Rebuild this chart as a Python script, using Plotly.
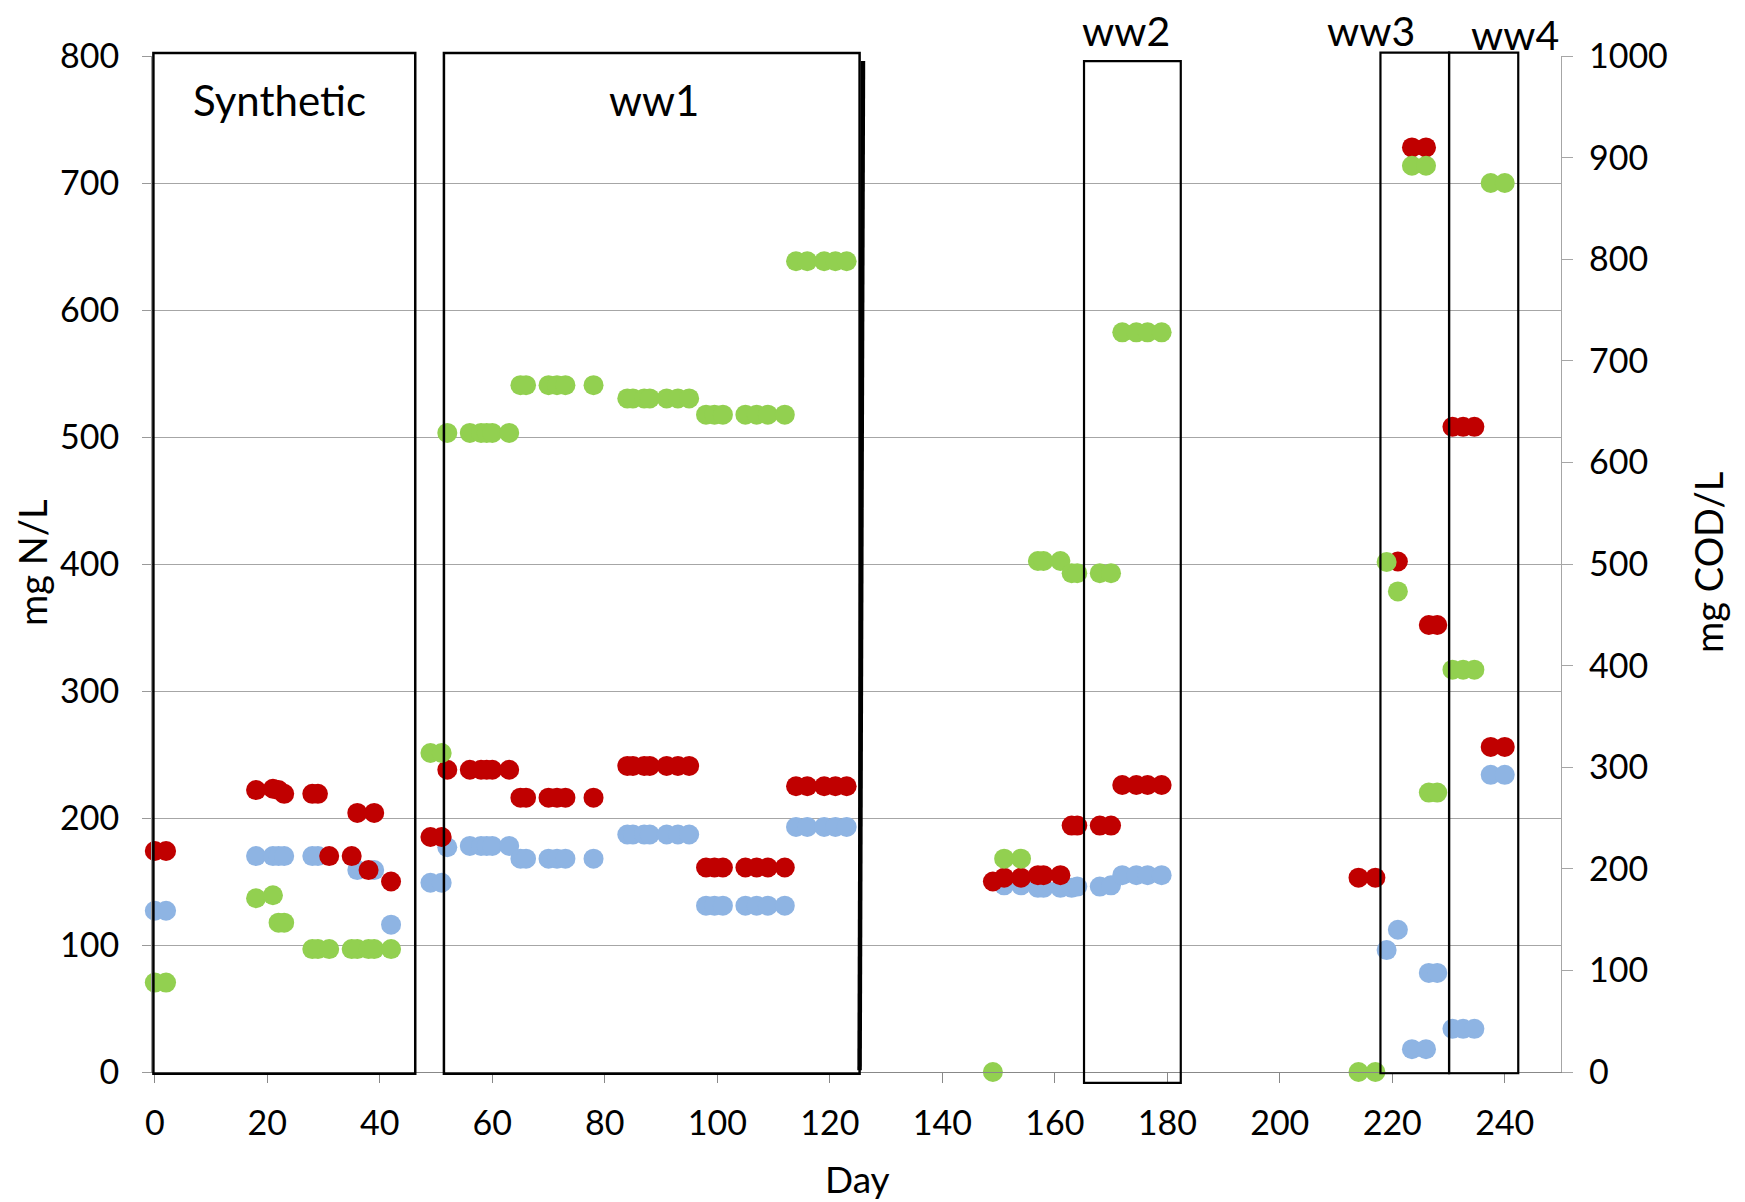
import plotly.graph_objects as go

# ---------------- data ----------------
# red series (mg N/L, left axis)
red_day = [0, 2, 18, 21, 22, 23, 28, 29, 31, 35, 36, 38, 39, 42,
           49, 51, 52, 56, 58, 59, 60, 63, 65, 66, 70, 71.5, 73, 78,
           84, 85, 87, 88, 91, 93, 95, 98, 99.5, 101, 105, 107, 109, 112,
           114, 116, 119, 121, 123,
           149, 151, 154, 157, 158, 161, 163, 164, 168, 170, 172, 174.5, 176.5, 179,
           214, 217, 221, 223.5, 226, 226.5, 228, 230.7, 232.6, 234.6, 237.5, 240]
red_val = [174, 174, 222, 223, 222, 219, 219, 219, 170, 170, 204, 159, 204, 150,
           185, 185, 238, 238, 238, 238, 238, 238, 216, 216, 216, 216, 216, 216,
           241, 241, 241, 241, 241, 241, 241, 161, 161, 161, 161, 161, 161, 161,
           225, 225, 225, 225, 225,
           150, 153, 153, 155, 155, 155, 194, 194, 194, 194, 226, 226, 226, 226,
           153, 153, 402, 728, 728, 352, 352, 508, 508, 508, 256, 256]

# blue series (mg N/L, left axis)
blue_day = [0, 2, 18, 21, 22, 23, 28, 29, 36, 39, 42,
            49, 51, 52, 56, 58, 59, 60, 63, 65, 66, 70, 71.5, 73, 78,
            84, 85, 87, 88, 91, 93, 95, 98, 99.5, 101, 105, 107, 109, 112,
            114, 116, 119, 121, 123,
            151, 154, 157, 158, 161, 163, 164, 168, 170, 172, 174.5, 176.5, 179,
            219, 221, 223.5, 226, 226.5, 228, 230.7, 232.6, 234.6, 237.5, 240]
blue_val = [127, 127, 170, 170, 170, 170, 170, 170, 159, 159, 116,
            149, 149, 177, 178, 178, 178, 178, 178, 168, 168, 168, 168, 168, 168,
            187, 187, 187, 187, 187, 187, 187, 131, 131, 131, 131, 131, 131, 131,
            193, 193, 193, 193, 193,
            147, 147, 145, 145, 145, 145, 146, 146, 147, 155, 155, 155, 155,
            96, 112, 18, 18, 78, 78, 34, 34, 34, 234, 234]

# green series (mg COD/L, right axis)
green_day = [0, 2, 18, 21, 22, 23, 28, 29, 31, 35, 36, 38, 39, 42,
             49, 51, 52, 56, 58, 59, 60, 63, 65, 66, 70, 71.5, 73, 78,
             84, 85, 87, 88, 91, 93, 95, 98, 99.5, 101, 105, 107, 109, 112,
             114, 116, 119, 121, 123,
             149, 151, 154, 157, 158, 161, 163, 164, 168, 170, 172, 174.5, 176.5, 179,
             214, 217, 219, 221, 223.5, 226, 226.5, 228, 230.7, 232.6, 234.6, 237.5, 240]
green_val = [88, 88, 171, 174, 147, 147, 121, 121, 121, 121, 121, 121, 121, 121,
             314, 314, 629, 629, 629, 629, 629, 629, 676, 676, 676, 676, 676, 676,
             663, 663, 663, 663, 663, 663, 663, 647, 647, 647, 647, 647, 647, 647,
             798, 798, 798, 798, 798,
             0, 210, 210, 503, 503, 503, 491, 491, 491, 491, 728, 728, 728, 728,
             0, 0, 502, 473, 892, 892, 275, 275, 396, 396, 396, 875, 875]

x_ticks = [0, 20, 40, 60, 80, 100, 120, 140, 160, 180, 200, 220, 240]

# phase boxes (x in days, y in mg N/L)
box_names = ["Synthetic", "ww1", "ww2", "ww3", "ww4"]
box_x0 = [-0.25, 51.4, 165.2, 217.9, 230.1]
box_x1 = [46.3, 125.3, 182.4, 230.1, 242.4]
box_y0 = [-1.3, -1.3, -8.5, -1.0, -1.0]
box_y1 = [802.4, 802.4, 796.0, 802.7, 802.7]
box_w = [2.5, 2.5, 2.2, 2.2, 2.2]
label_x = [22.1, 88.8, 172.6, 216.3, 241.8]
label_y = [765, 765, 820, 820, 817]
label_size = [42, 42, 41, 41, 41]

Y_MAX = 800
RED = "#C00000"
BLUE = "#8EB4E3"
GREEN = "#92D050"
FONT = "Lato"
MSIZE = 20

fig = go.Figure()
fig.add_trace(go.Scatter(x=blue_day, y=blue_val, mode="markers", cliponaxis=False,
                         marker=dict(color=BLUE, size=MSIZE), yaxis="y", showlegend=False))
fig.add_trace(go.Scatter(x=red_day, y=red_val, mode="markers", cliponaxis=False,
                         marker=dict(color=RED, size=MSIZE), yaxis="y", showlegend=False))
fig.add_trace(go.Scatter(x=green_day, y=green_val, mode="markers", cliponaxis=False,
                         marker=dict(color=GREEN, size=MSIZE), yaxis="y2", showlegend=False))

for i in range(len(box_names)):
    fig.add_shape(type="rect", xref="x", yref="y domain",
                  x0=box_x0[i], x1=box_x1[i],
                  y0=box_y0[i] / Y_MAX, y1=box_y1[i] / Y_MAX,
                  line=dict(color="black", width=box_w[i]), fillcolor="rgba(0,0,0,0)")
    fig.add_annotation(x=label_x[i], y=label_y[i] / Y_MAX, xref="x", yref="y domain",
                       text=box_names[i], showarrow=False, xanchor="center", yanchor="middle",
                       font=dict(family=FONT, size=label_size[i], color="black"))

# thick slanted separator line at the end of ww1
fig.add_shape(type="line", xref="x", yref="y", x0=125.9, y0=796, x1=125.3, y1=1.3,
              line=dict(color="black", width=4.5))

# axis titles
fig.add_annotation(x=-0.0852, y=0.501, xref="paper", yref="paper", text="mg N/L",
                   textangle=-90, showarrow=False, xanchor="center", yanchor="middle",
                   font=dict(family=FONT, size=38, color="black"))
fig.add_annotation(x=1.1043, y=0.502, xref="paper", yref="paper", text="mg COD/L",
                   textangle=-90, showarrow=False, xanchor="center", yanchor="middle",
                   font=dict(family=FONT, size=38, color="black"))
fig.add_annotation(x=0.501, y=-0.105, xref="paper", yref="paper", text="Day",
                   showarrow=False, xanchor="center", yanchor="middle",
                   font=dict(family=FONT, size=37, color="black"))

tickfont = dict(family=FONT, size=34, color="black")
fig.update_layout(
    width=1737, height=1194,
    margin=dict(l=144, r=184, t=48, b=130),
    plot_bgcolor="white", paper_bgcolor="white",
    xaxis=dict(range=[-0.5, 250], tickvals=x_ticks, ticks="outside", ticklen=10,
               tickcolor="#888888", tickwidth=1.3, showline=True, linecolor="#888888",
               linewidth=1.3, showgrid=False, zeroline=False, tickfont=tickfont,
               ticklabelstandoff=11),
    yaxis=dict(range=[0, 800], dtick=100, ticks="outside", ticklen=9, tickcolor="#999999",
               tickwidth=1.3, showline=True, linecolor="#999999", gridcolor="#A6A6A6",
               gridwidth=1.3, zeroline=False, tickfont=tickfont, ticklabelstandoff=16),
    yaxis2=dict(range=[0, 1000], dtick=100, overlaying="y", side="right", ticks="outside",
                ticklen=11, tickcolor="#A6A6A6", tickwidth=1.3, showline=True,
                linecolor="#A6A6A6", linewidth=1.3, showgrid=False, zeroline=False,
                tickfont=tickfont, ticklabelstandoff=9),
)

fig.write_html("out.html")
